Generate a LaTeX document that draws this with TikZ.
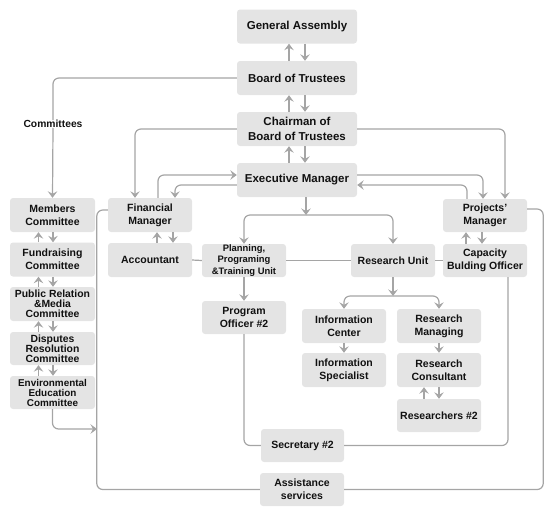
\documentclass[tikz,border=0pt]{standalone}
\usepackage{fontspec}
\setmainfont{Liberation Sans}
\usetikzlibrary{arrows.meta}
\definecolor{boxc}{HTML}{E4E4E4}
\definecolor{linec}{HTML}{A5A5A5}
\definecolor{txtc}{HTML}{111111}
\tikzset{
  box/.style={fill=boxc, rounded corners=3pt, align=center, inner sep=0pt,
    text=txtc, font=\bfseries\fontsize{10.5}{12.7}\selectfont},
  bigbox/.style={box, minimum width=120pt, minimum height=34pt,
    font=\bfseries\fontsize{11.5}{14.8}\selectfont},
  sbox/.style={box, minimum width=84pt, minimum height=34pt},
  lbl/.style={text=txtc, font=\bfseries\fontsize{10.3}{12}\selectfont, inner xsep=1pt, inner ysep=0pt},
  conn/.style={draw=linec, line width=1.2pt, rounded corners=6pt},
  arr/.style={conn, -{Stealth[length=6.5pt,width=9.5pt,inset=2.5pt]}},
}
\begin{document}
\begin{tikzpicture}[x=1pt,y=-1pt]
\useasboundingbox (0,0) rectangle (553,515);
% top column
\node[bigbox] (ga) at (297,26.5) {General Assembly};
\node[bigbox] (bot) at (297,78) {Board of Trustees};
\node[bigbox] (chair) at (297,129) {Chairman of\\Board of Trustees};
\node[bigbox] (exec) at (297,180) {Executive Manager};
% committees
\node[lbl] (comm) at (53,124) {Committees};
\node[sbox, minimum width=85pt] (members) at (52.5,215) {Members\\Committee};
\node[sbox, minimum width=85pt] (fund) at (52.5,259.5) {Fundraising\\Committee};
\node[sbox, minimum width=85pt, font=\bfseries\fontsize{10.4}{10}\selectfont] (pr) at (52.5,304) {Public Relation\\\&Media\\Committee};
\node[sbox, minimum width=85pt, minimum height=33pt, font=\bfseries\fontsize{10.4}{10}\selectfont] (disp) at (52.5,348.5) {Disputes\\Resolution\\Committee};
\node[sbox, minimum width=85pt, minimum height=33pt, font=\bfseries\fontsize{9.9}{10}\selectfont] (env) at (52.5,392.5) {Environmental\\Education\\Committee};
% middle
\node[sbox] (fm) at (150,215) {Financial\\Manager};
\node[sbox] (acc) at (150,260) {Accountant};
\node[sbox, minimum height=33pt, font=\bfseries\fontsize{9.4}{11.3}\selectfont] (plan) at (244,260.5) {Planning,\\Programing\\\&Training Unit};
\node[sbox, minimum height=33pt] (po) at (244,317.5) {Program\\Officer \#2};
\node[sbox, minimum height=33pt] (ru) at (393,260.5) {Research Unit};
\node[sbox, minimum height=33pt] (cap) at (485,260.5) {Capacity\\Bulding Officer};
\node[sbox, minimum height=33pt] (pm) at (485,215.5) {Projects'\\Manager};
\node[sbox] (ic) at (344,326) {Information\\Center};
\node[sbox] (is) at (344,370) {Information\\Specialist};
\node[sbox] (rm) at (439,326) {Research\\Managing};
\node[sbox] (rc) at (439,370) {Research\\Consultant};
\node[sbox, minimum height=33pt] (r2) at (439,415.5) {Researchers \#2};
\node[sbox, minimum width=83pt, minimum height=33pt] (sec) at (302.5,445.5) {Secretary \#2};
\node[sbox, minimum height=33pt] (as) at (302,489.5) {Assistance\\services};
% coordinates
\coordinate (bus) at (306,215);
\coordinate (bus2) at (393,296);
\coordinate (envend) at (97,429);
% top column arrows
\foreach \a/\b in {ga/bot, bot/chair, chair/exec}{
  \draw[arr] ([xshift=-8]\b.north) -- ([xshift=-8]\a.south);
  \draw[arr] ([xshift=8]\a.south) -- ([xshift=8]\b.north);
}
% committees
\draw[conn] (bot.west) -| (comm.north);
\draw[arr] (comm.south) -- (members.north);
\foreach \a/\b in {members/fund, fund/pr, pr/disp, disp/env}{
  \draw[arr] ([xshift=-14]\b.north) -- ([xshift=-14]\a.south);
  \draw[arr] ([xshift=0.5]\a.south) -- ([xshift=0.5]\b.north);
}
\draw[arr] (env.south) |- (envend);
% chairman to managers
\draw[arr] (chair.west) -| ([xshift=-15]fm.north);
\draw[arr] (chair.east) -| ([xshift=20]pm.north);
% executive and managers
\draw[arr] ([xshift=8]fm.north) |- ([yshift=5]exec.west);
\draw[arr] ([yshift=-5]exec.west) -| ([xshift=25]fm.north);
\draw[arr] ([yshift=5]exec.east) -| ([xshift=-2]pm.north);
\draw[arr] ([xshift=-18]pm.north) |- ([yshift=-5]exec.east);
% exec down
\draw[arr] ([xshift=9]exec.south) -- (bus);
\draw[arr] (bus) -| (plan.north);
\draw[arr] (bus) -| (ru.north);
% fm/acc, pm/cap
\draw[arr] ([xshift=7]acc.north) -- ([xshift=7]fm.south);
\draw[arr] ([xshift=23]fm.south) -- ([xshift=23]acc.north);
\draw[arr] ([xshift=-19]cap.north) -- ([xshift=-19]pm.south);
\draw[arr] ([xshift=-3]pm.south) -- ([xshift=-3]cap.north);
% horizontal row
\draw[conn] (acc.east) -- (plan.west);
\draw[conn] (plan.east) -- (ru.west);
\draw[conn] (ru.east) -- (cap.west);
% planning
\draw[arr] (plan.south) -- (po.north);
% research unit
\draw[arr] (ru.south) -- (bus2);
\draw[arr] (bus2) -| (ic.north);
\draw[arr] (bus2) -| (rm.north);
\draw[arr] (ic.south) -- (is.north);
\draw[arr] (rm.south) -- (rc.north);
\draw[arr] ([xshift=-15]r2.north) -- ([xshift=-15]rc.south);
\draw[arr] (rc.south) -- (r2.north);
% secretary loop
\draw[conn] (po.south) |- (sec.west);
\draw[conn] ([xshift=23]cap.south) |- (sec.east);
% assistance loop
\draw[conn] ([yshift=5]fm.west) -- ++(-11,0) |- (as.west);
\draw[conn] ([yshift=6.5]pm.east) -- ++(16,0) |- (as.east);
\end{tikzpicture}
\end{document}
